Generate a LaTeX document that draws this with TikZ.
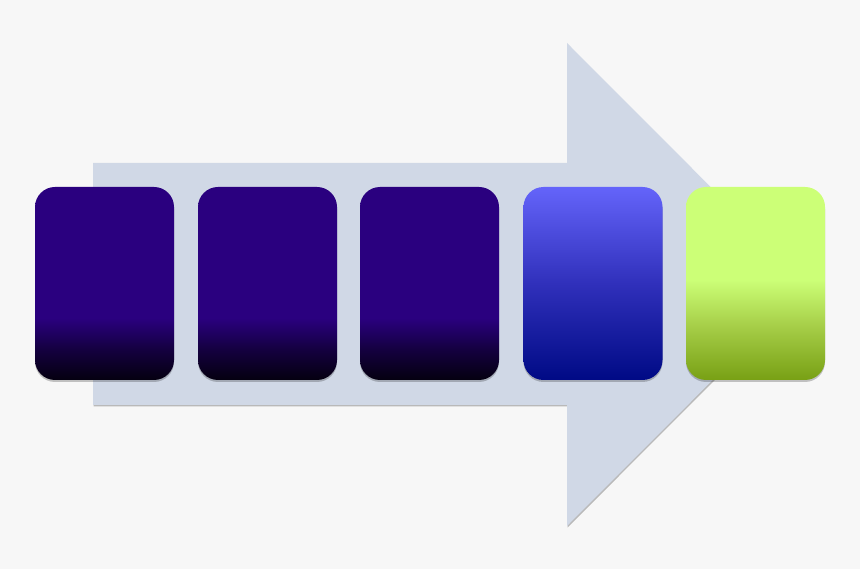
\documentclass[tikz,border=0pt]{standalone}
\usetikzlibrary{shadows}
\definecolor{bgc}{HTML}{F7F7F7}
\definecolor{arrowc}{HTML}{D0D8E6}
\definecolor{purp}{HTML}{2A007F}
\definecolor{purpmid}{HTML}{140040}
\definecolor{purpdark}{HTML}{050010}
\definecolor{bluetop}{HTML}{6464FA}
\definecolor{bluemid}{HTML}{3030BB}
\definecolor{bluebot}{HTML}{000A85}
\definecolor{greentop}{HTML}{CCFF77}
\definecolor{greenmid}{HTML}{A6CE48}
\definecolor{greenbot}{HTML}{78A014}
\pgfdeclareverticalshading{purpshade}{100bp}{color(0bp)=(purpdark); color(25bp)=(purpdark); color(33bp)=(purpmid); color(41bp)=(purp); color(100bp)=(purp)}
\pgfdeclareverticalshading{blueshade}{100bp}{color(0bp)=(bluebot); color(25bp)=(bluebot); color(50bp)=(bluemid); color(75bp)=(bluetop); color(100bp)=(bluetop)}
\pgfdeclareverticalshading{greenshade}{100bp}{color(0bp)=(greenbot); color(25bp)=(greenbot); color(39bp)=(greenmid); color(51bp)=(greentop); color(100bp)=(greentop)}
\tikzset{
  stagebox/.style={rounded corners=20pt, minimum width=139pt, minimum height=193pt,
    inner sep=0pt, draw=none,
    drop shadow={shadow xshift=0pt, shadow yshift=-2pt, opacity=0.22, fill=black}},
  purpbox/.style={stagebox, shading=purpshade},
  bluebox/.style={stagebox, shading=blueshade},
  greenbox/.style={stagebox, shading=greenshade},
  bigarrow/.style={fill=arrowc, draw=none,
    drop shadow={shadow xshift=0.6pt, shadow yshift=-1.5pt, opacity=0.25, fill=black}}
}
\begin{document}
\begin{tikzpicture}[x=1pt,y=-1pt]
\fill[bgc] (0,0) rectangle (860,569);
\useasboundingbox (0,0) rectangle (860,569);
\path[bigarrow] (93,163) -- (567,163) -- (567,43) -- (808,284.5) -- (567,526) -- (567,405) -- (93,405) -- cycle;
\node[purpbox] (b1) at (104.5,283.5) {};
\node[purpbox] (b2) at (267.5,283.5) {};
\node[purpbox] (b3) at (429.5,283.5) {};
\node[bluebox] (b4) at (593,283.5) {};
\node[greenbox] (b5) at (755.5,283.5) {};
\end{tikzpicture}
\end{document}
